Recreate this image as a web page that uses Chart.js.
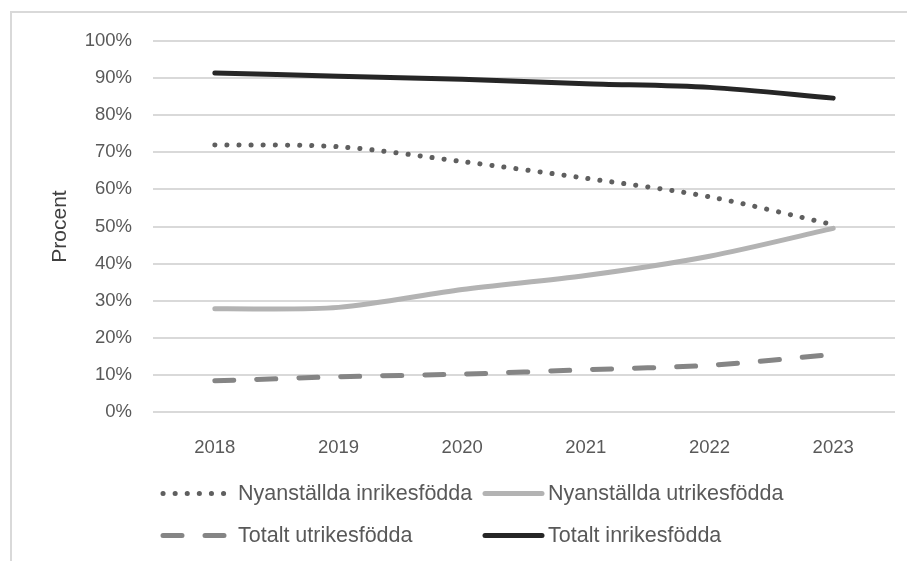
<!DOCTYPE html>
<html>
<head>
<meta charset="utf-8">
<script src="https://cdn.jsdelivr.net/npm/chart.js@4.4.1/dist/chart.umd.min.js"></script>
<style>
  html, body { margin: 0; padding: 0; background: #fff; overflow: hidden; }
  #wrap { position: relative; width: 907px; height: 561px; }
  #frame { position: absolute; left: 10px; top: 11px; width: 1000px; height: 1000px;
           border: 2px solid #d9d9d9; box-sizing: border-box; }
  canvas { position: absolute; left: 0; top: 0; }
  .leg { position: absolute; font-family: "Liberation Sans", Arial, sans-serif;
         font-size: 21.5px; color: #595959; white-space: nowrap; line-height: 24px; }
  .leg svg { position: absolute; top: 0; }
</style>
</head>
<body>
<div id="wrap">
  <div id="frame"></div>
  <canvas id="chart" width="907" height="561"></canvas>
  <div id="legend"></div>
</div>
<script>
// Data
const years = ['2018', '2019', '2020', '2021', '2022', '2023'];
const nyInrikes = [72.0, 71.5, 67.5, 63.0, 58.0, 50.5];
const nyUtrikes = [27.8, 28.2, 33.0, 36.8, 42.0, 49.5];
const totUtrikes = [8.4, 9.5, 10.2, 11.4, 12.6, 15.5];
const totInrikes = [91.4, 90.5, 89.7, 88.5, 87.5, 84.6];
const yTicks = [0, 10, 20, 30, 40, 50, 60, 70, 80, 90, 100];

const font = '"Liberation Sans", Arial, sans-serif';
const grey = '#595959';

const series = [
    { label: 'Nyanställda inrikesfödda', data: nyInrikes, color: '#5f5f5f', dash: [0.1, 12], width: 5 },
    { label: 'Nyanställda utrikesfödda', data: nyUtrikes, color: '#b3b3b3', dash: [], width: 5 },
    { label: 'Totalt utrikesfödda', data: totUtrikes, color: '#858585', dash: [19, 23], width: 5 },
    { label: 'Totalt inrikesfödda', data: totInrikes, color: '#262626', dash: [], width: 5 }
];

const ctx = document.getElementById('chart').getContext('2d');
const chart = new Chart(ctx, {
    type: 'line',
    data: {
        labels: years,
        datasets: series.map(s => ({
            label: s.label,
            data: s.data,
            borderColor: s.color,
            borderWidth: s.width,
            borderDash: s.dash,
            borderCapStyle: 'round',
            borderJoinStyle: 'round',
            tension: 0.3,
            pointRadius: 0,
            fill: false
        }))
    },
    options: {
        responsive: false,
        animation: false,
        layout: { padding: { top: 41, right: 12, left: 0, bottom: 0 } },
        plugins: { legend: { display: false }, tooltip: { enabled: false } },
        scales: {
            x: {
                offset: true,
                grid: { display: false },
                border: { display: false },
                ticks: { color: grey, font: { family: font, size: 18.5 }, padding: 17 },
                afterFit: function (scale) { scale.height = 561 - 412; }
            },
            y: {
                min: 0,
                max: 100,
                afterBuildTicks: function (scale) {
                    scale.ticks = yTicks.map(v => ({ value: v }));
                },
                grid: { color: '#d9d9d9', lineWidth: 2, drawTicks: false },
                border: { display: false },
                ticks: {
                    color: grey,
                    font: { family: font, size: 18.5 },
                    padding: 21,
                    callback: v => v + '%'
                },
                title: {
                    display: true,
                    text: 'Procent',
                    color: '#404040',
                    font: { family: font, size: 21 },
                    padding: { top: 48, bottom: 0 }
                },
                afterFit: function (scale) { scale.width = 153; }
            }
        }
    }
});

// Legend built as HTML, two columns like the original
const legendPos = [
    { x: 160, y: 481, tx: 238, w: 72 },
    { x: 482, y: 481, tx: 548, w: 63 },
    { x: 160, y: 523, tx: 238, w: 72 },
    { x: 482, y: 523, tx: 548, w: 63 }
];
const legend = document.getElementById('legend');
series.forEach((s, i) => {
    const p = legendPos[i];
    const div = document.createElement('div');
    div.className = 'leg';
    div.style.left = p.x + 'px';
    div.style.top = p.y + 'px';
    const dash = s.dash.length ? s.dash.join(' ') : 'none';
    div.innerHTML =
        '<svg width="' + p.w + '" height="24" style="left:0">' +
        '<line x1="3" y1="12.5" x2="' + (p.w - 3) + '" y2="12.5" stroke="' + s.color +
        '" stroke-width="' + s.width + '" stroke-linecap="round" stroke-dasharray="' + dash + '"/></svg>' +
        '<span style="position:absolute; left:' + (p.tx - p.x) + 'px; top:0">' + s.label + '</span>';
    legend.appendChild(div);
});
</script>
</body>
</html>
